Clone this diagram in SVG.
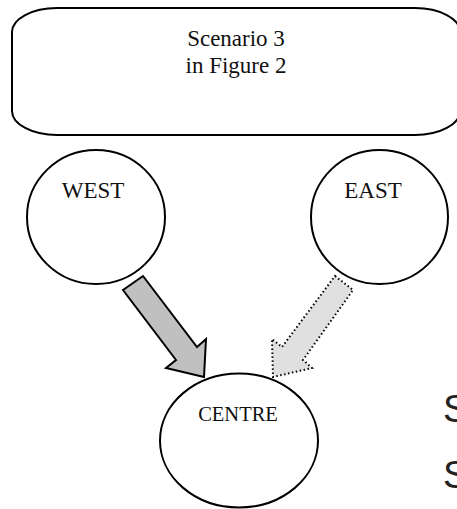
<svg xmlns="http://www.w3.org/2000/svg" width="457" height="509" viewBox="0 0 457 509">
<style>
.shape{fill:#fff;stroke:#000;stroke-width:2}
.lbl{font-family:"Liberation Serif","Times New Roman",serif;fill:#111;text-anchor:middle}
.side{font-family:"Liberation Sans",Arial,sans-serif;fill:#222;font-size:38px}
.solid{fill:#c0c0c0;stroke:#000;stroke-width:2;stroke-linejoin:miter}
.dotted{fill:#e0e0e0;stroke:#000;stroke-width:2;stroke-dasharray:1.5 2.5;stroke-linejoin:miter}
</style>
<rect width="457" height="509" fill="#fff"/>
<g id="scenario">
<rect class="shape" x="12" y="8" width="448" height="127" rx="45" ry="24"/>
<text class="lbl" x="236" y="46" font-size="23">Scenario 3</text>
<text class="lbl" x="236" y="73" font-size="23">in Figure 2</text>
</g>
<g id="west">
<ellipse class="shape" cx="96" cy="217" rx="69" ry="67"/>
<text class="lbl" x="93" y="198" font-size="23">WEST</text>
</g>
<g id="east">
<ellipse class="shape" cx="379.5" cy="217" rx="68.5" ry="67"/>
<text class="lbl" x="373" y="198" font-size="23">EAST</text>
</g>
<g id="centre">
<ellipse class="shape" cx="239" cy="440.5" rx="79" ry="67"/>
<text class="lbl" x="238" y="421" font-size="20.5">CENTRE</text>
</g>
<g id="connectors">
<polygon class="solid" points="123,290 143,276 197,347 206,339 204,377 166,368 176,360"/>
<polygon class="dotted" points="335,276 353,290 303,360 312,368 273,377 272,339 282,347"/>
</g>
<text class="side" x="443" y="422">S</text>
<text class="side" x="443" y="488">S</text>
</svg>
